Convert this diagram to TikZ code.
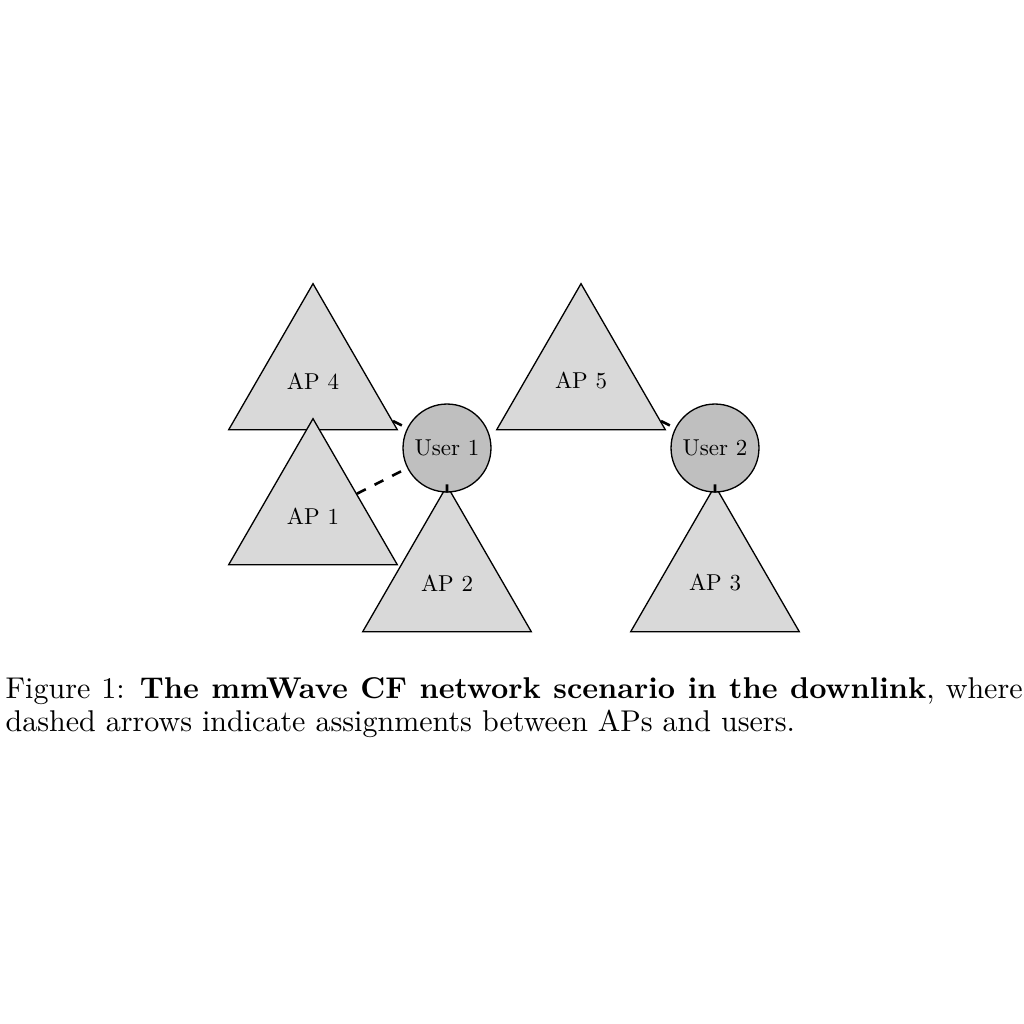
\documentclass[tikz,border=0pt]{standalone}
\usepackage{graphicx}
\usetikzlibrary{shapes.geometric}
\newcommand{\nlbl}[1]{\scalebox{0.7}{#1}}
\begin{document}
\begin{tikzpicture}[x=0.3047pt,y=-0.3047pt,
  ap/.style={regular polygon, regular polygon sides=3, draw, fill=gray!30,
    minimum size=59.3pt, inner sep=0pt},
  user/.style={circle, draw, fill=gray!50, minimum size=26.8pt, inner sep=0pt},
  link/.style={dashed, thick}]
\useasboundingbox (0,0) rectangle (1024,1024);
\node[ap] (ap4) at (313,381) {\nlbl{AP 4}};
\node[ap] (ap1) at (313,516) {\nlbl{AP 1}};
\node[ap] (ap2) at (447,583) {\nlbl{AP 2}};
\node[ap] (ap5) at (581,381) {\nlbl{AP 5}};
\node[ap] (ap3) at (715,583) {\nlbl{AP 3}};
\node[user] (u1) at (447,448) {\nlbl{User 1}};
\node[user] (u2) at (715,448) {\nlbl{User 2}};
\draw[link] (ap4) -- (u1);
\draw[link] (ap1) -- (u1);
\draw[link] (ap2) -- (u1);
\draw[link] (ap5) -- (u2);
\draw[link] (ap3) -- (u2);
\node[anchor=north west, scale=0.915, transform shape, text width=338.7pt,
  align=justify, inner sep=0pt, font=\fontsize{10}{11}\selectfont] (cap) at (5,677)
  {Figure 1: \textbf{The mmWave CF network scenario in the downlink}, where dashed arrows indicate assignments between APs and users.};
\end{tikzpicture}
\end{document}
